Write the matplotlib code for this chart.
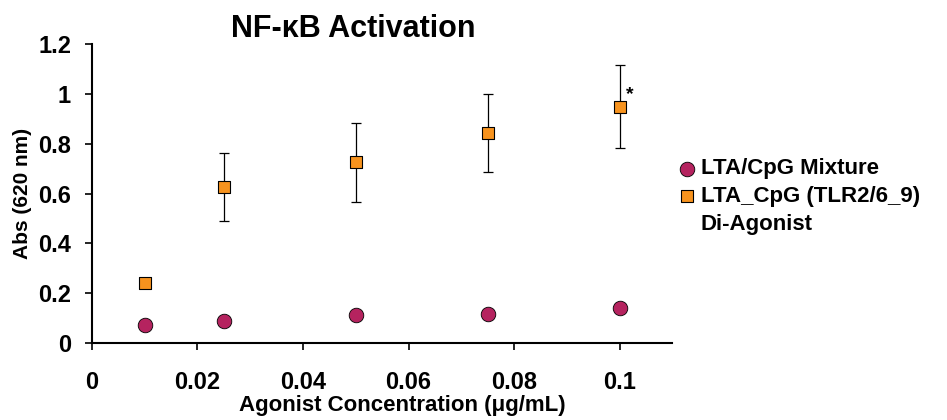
import matplotlib.pyplot as plt

conc = [0.01, 0.025, 0.05, 0.075, 0.1]
mixture = [0.072, 0.088, 0.113, 0.118, 0.143]
diagonist = [0.24, 0.627, 0.725, 0.843, 0.949]
diagonist_err = [0.0, 0.138, 0.158, 0.157, 0.167]

plt.rcParams['font.family'] = ['Liberation Sans', 'DejaVu Sans']
plt.rcParams['font.weight'] = 'bold'

fig = plt.figure(figsize=(9.47, 4.2), dpi=100)
ax = fig.add_axes([0.097, 0.183, 0.613, 0.712])

ax.errorbar(conc[1:], diagonist[1:], yerr=diagonist_err[1:], fmt='none',
            ecolor='black', elinewidth=0.9, capsize=3.5, capthick=0.9, zorder=2)
ax.scatter(conc, mixture, marker='o', s=110, color='#B5235F', edgecolor='black',
           linewidth=0.6, zorder=3, label='LTA/CpG Mixture')
ax.scatter(conc, diagonist, marker='s', s=80, color='#F7931E', edgecolor='black',
           linewidth=0.8, zorder=3, label='LTA_CpG (TLR2/6_9)')
ax.plot([], [], linestyle='none', label='Di-Agonist')
ax.text(0.1012, 0.965, '*', fontsize=14, fontweight='bold', ha='left', va='bottom')

ax.set_xlim(0, 0.11)
ax.set_ylim(0, 1.2)
ax.set_xticks([0, 0.02, 0.04, 0.06, 0.08, 0.1])
ax.set_xticklabels(['0', '0.02', '0.04', '0.06', '0.08', '0.1'])
ax.set_yticks([0, 0.2, 0.4, 0.6, 0.8, 1.0, 1.2])
ax.set_yticklabels(['0', '0.2', '0.4', '0.6', '0.8', '1', '1.2'])
ax.tick_params(axis='x', direction='out', length=5, width=1.2, pad=15, labelsize=17)
ax.tick_params(axis='y', direction='out', length=5, width=1.2, pad=10, labelsize=17)
for side in ['top', 'right']:
    ax.spines[side].set_visible(False)
for side in ['left', 'bottom']:
    ax.spines[side].set_linewidth(1.5)

ax.set_xlabel('Agonist Concentration (\u03bcg/mL)', fontsize=16, fontweight='bold')
ax.xaxis.set_label_coords(0.534, -0.175)
ax.set_ylabel('Abs (620 nm)', fontsize=15, fontweight='bold', labelpad=4)
fig.text(0.373, 0.93, 'NF-\u03baB Activation', fontsize=22, fontweight='bold',
         ha='center', va='center')

ax.legend(loc='center left', bbox_to_anchor=(0.98, 0.49), frameon=False, fontsize=16,
          handletextpad=0.1, handlelength=1.0, borderaxespad=0.3, labelspacing=0.3)

fig.savefig('out.png', dpi=100)
